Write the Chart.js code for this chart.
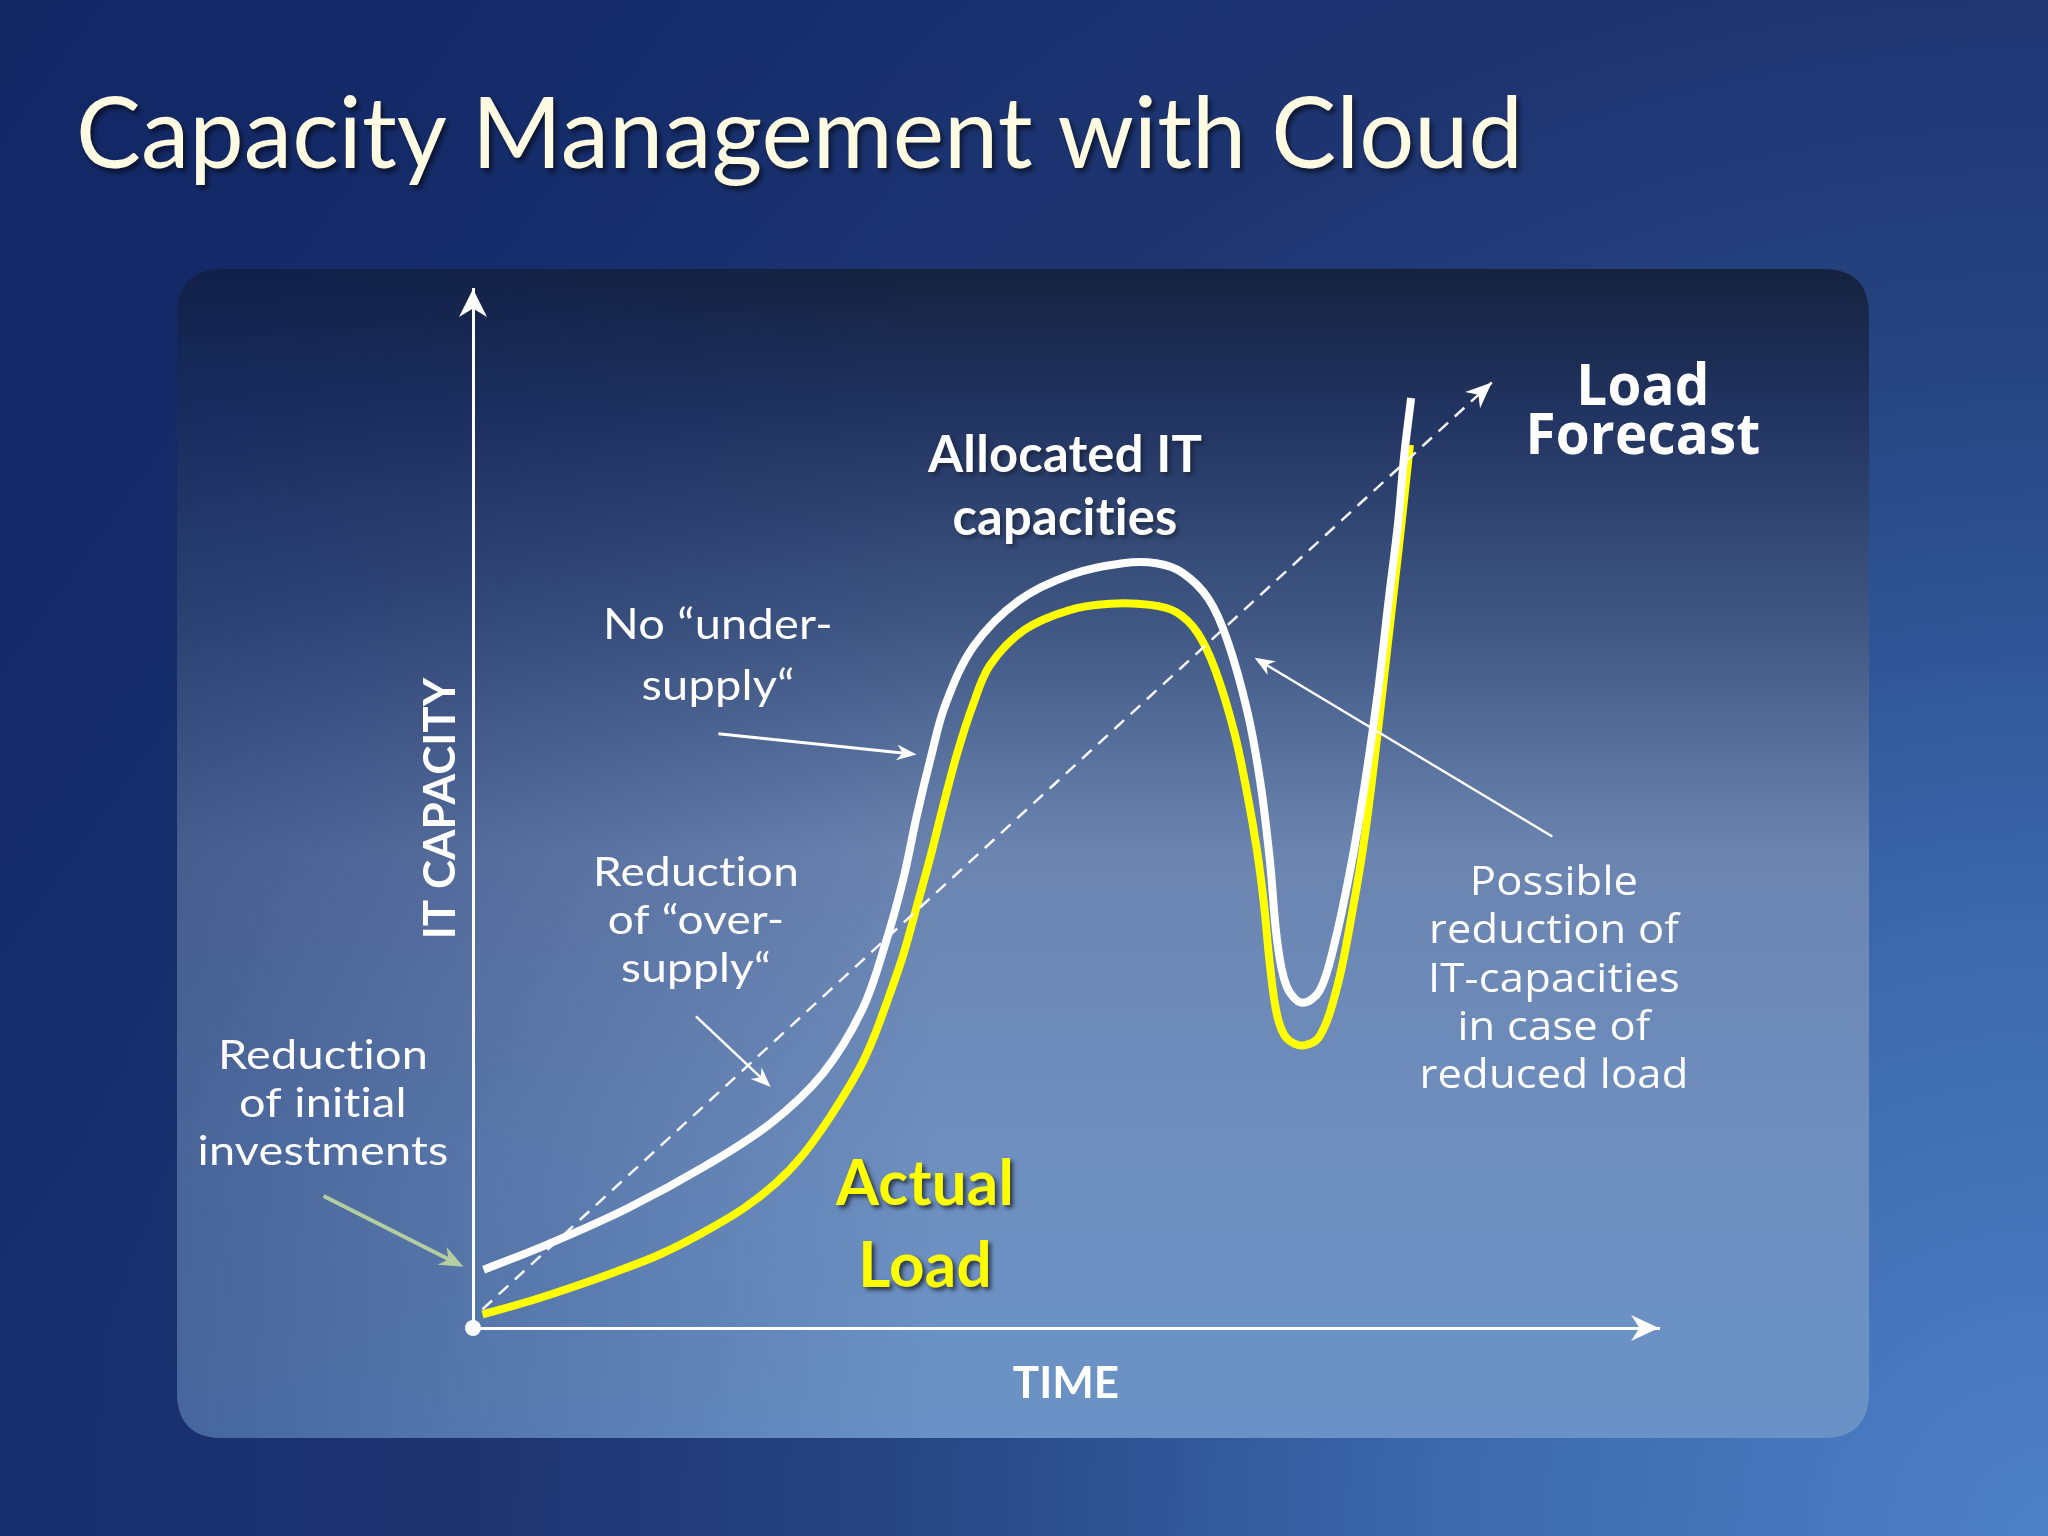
<!DOCTYPE html>
<html>
<head>
<meta charset="utf-8">
<title>Capacity Management with Cloud</title>
<script src="https://cdn.jsdelivr.net/npm/chart.js@4.4.1/dist/chart.umd.min.js"></script>
<style>
  html, body { margin: 0; padding: 0; background: #1a3170; }
  #wrap { width: 2048px; height: 1536px; }
</style>
</head>
<body>
<div id="wrap"><canvas id="capacityChart" width="2048" height="1536"></canvas></div>
<script>
// values, time and capacity both on a 0..100 scale
const timeAllocated = [0.9, 6.4, 13.0, 19.6, 25.1, 29.5, 32.8, 34.8, 36.3, 37.4, 38.6, 39.8, 42.2, 46.0, 50.4, 54.8, 57.6, 59.8, 62.0, 63.6, 65.3, 66.4, 67.2, 67.8, 68.6, 69.9, 71.4, 72.7, 74.1, 75.2, 76.3, 77.2, 78.0, 78.5, 79.1];
const capAllocated  = [5.6, 8.1, 11.5, 15.6, 19.7, 24.5, 30.6, 37.1, 43.3, 49.2, 54.9, 59.9, 65.6, 70.0, 72.5, 73.6, 73.6, 72.7, 70.2, 66.2, 59.3, 52.4, 44.9, 37.3, 32.9, 31.3, 32.5, 37.3, 44.9, 52.4, 61.2, 70.0, 77.5, 83.8, 89.5];

const timeLoad = [0.8, 4.8, 8.3, 12.0, 15.6, 19.1, 22.8, 25.5, 27.7, 30.1, 32.6, 33.8, 35.1, 36.3, 37.4, 38.6, 39.7, 40.8, 42.1, 43.6, 46.5, 50.3, 53.7, 57.1, 59.3, 61.1, 62.6, 64.2, 65.3, 66.1, 66.7, 67.2, 67.8, 68.6, 70.0, 71.4, 72.9, 74.1, 75.2, 76.3, 77.2, 78.1, 79.0];
const capLoad  = [1.3, 2.6, 3.9, 5.4, 7.0, 9.0, 11.5, 13.9, 16.5, 20.3, 25.0, 28.0, 32.0, 36.0, 40.5, 45.5, 50.5, 55.2, 59.8, 63.8, 67.2, 69.1, 69.7, 69.6, 68.9, 66.9, 63.3, 57.3, 51.3, 46.0, 40.7, 34.9, 30.1, 27.9, 27.2, 28.1, 33.0, 39.8, 47.4, 57.5, 66.5, 75.5, 85.0];

const timeForecast = [0.8, 85.9];
const capForecast  = [1.8, 91.0];

const axisTitles = { x: 'TIME', y: 'IT CAPACITY' };

// callout pointers: [fromTime, fromCap, toTime, toCap]
const pointerUnder   = [20.7, 57.2, 37.4, 55.2];
const pointerOver    = [18.8, 30.0, 25.1, 23.2];
const pointerInitial = [-12.6, 12.7, -0.8, 5.9];
const pointerReduce  = [91.0, 47.3, 65.9, 64.5];

function toPoints(xs, ys) {
    return xs.map((x, i) => ({ x: x, y: ys[i] }));
}

// filled "stealth" arrow head pointing along angle
function arrowHead(ctx, x, y, angle, len, width, color) {
    ctx.save();
    ctx.translate(x, y);
    ctx.rotate(angle);
    ctx.beginPath();
    ctx.moveTo(0, 0);
    ctx.lineTo(-len, -width / 2);
    ctx.lineTo(-len * 0.7, 0);
    ctx.lineTo(-len, width / 2);
    ctx.closePath();
    ctx.fillStyle = color;
    ctx.fill();
    ctx.restore();
}

function pointer(ctx, chart, p, color, lineWidth, headLen, headWidth) {
    const sx = chart.scales.x, sy = chart.scales.y;
    const x1 = sx.getPixelForValue(p[0]), y1 = sy.getPixelForValue(p[1]);
    const x2 = sx.getPixelForValue(p[2]), y2 = sy.getPixelForValue(p[3]);
    const a = Math.atan2(y2 - y1, x2 - x1);
    ctx.save();
    ctx.strokeStyle = color;
    ctx.lineWidth = lineWidth;
    ctx.beginPath();
    ctx.moveTo(x1, y1);
    ctx.lineTo(x2 - Math.cos(a) * headLen * 0.6, y2 - Math.sin(a) * headLen * 0.6);
    ctx.stroke();
    ctx.restore();
    arrowHead(ctx, x2, y2, a, headLen, headWidth, color);
}

// text blocks, squeezed sideways so the reference line gets the width seen in the picture
const notes = [
    { lines: ['No \u201Cunder-', 'supply\u201C'], cx: 718, base: 639, step: 61, font: '400 43px Lato', ref: 0, width: 230, color: '#ffffff' },
    { lines: ['Reduction', 'of \u201Cover-', 'supply\u201C'], cx: 696, base: 886, step: 48, font: '400 41px Lato', ref: 0, width: 206, color: '#ffffff' },
    { lines: ['Reduction', 'of initial', 'investments'], cx: 323, base: 1069, step: 48, font: '400 40px Lato', ref: 2, width: 251, color: '#ffffff' },
    { lines: ['Possible', 'reduction of', 'IT-capacities', 'in case of', 'reduced load'], cx: 1554, base: 895, step: 48.3, font: '400 41px "Open Sans"', ref: 4, width: 269, color: '#ffffff' },
    { lines: ['Allocated IT', 'capacities'], cx: 1065, base: 472, step: 63, font: '700 52px Lato', ref: 0, width: 274, color: '#ffffff', shadow: 'rgba(0,0,0,0.35)' },
    { lines: ['Load', 'Forecast'], cx: 1643, base: 405, step: 49, font: '700 57px "Open Sans"', ref: 1, width: 235, color: '#ffffff' },
    { lines: ['Actual', 'Load'], cx: 925, base: 1205, step: 82, font: '700 63px Lato', ref: 0, width: 178, color: '#ffff00', shadow: 'rgba(0,0,0,0.6)' }
];

function drawBlock(ctx, b) {
    ctx.save();
    ctx.font = b.font;
    ctx.letterSpacing = '0.2px'; // keeps Lato from joining "ti"
    ctx.textAlign = 'center';
    ctx.textBaseline = 'alphabetic';
    ctx.fillStyle = b.color;
    const k = b.width / ctx.measureText(b.lines[b.ref]).width;
    if (b.shadow) {
        ctx.shadowColor = b.shadow;
        ctx.shadowOffsetX = 3;
        ctx.shadowOffsetY = 3;
        ctx.shadowBlur = 4;
    }
    b.lines.forEach((line, i) => {
        ctx.save();
        ctx.translate(b.cx, b.base + i * b.step);
        ctx.scale(k, 1);
        ctx.fillText(line, 0, 0);
        ctx.restore();
    });
    ctx.restore();
}

function roundRect(ctx, x, y, w, h, r) {
    ctx.beginPath();
    ctx.moveTo(x + r, y);
    ctx.lineTo(x + w - r, y);
    ctx.quadraticCurveTo(x + w, y, x + w, y + r);
    ctx.lineTo(x + w, y + h - r);
    ctx.quadraticCurveTo(x + w, y + h, x + w - r, y + h);
    ctx.lineTo(x + r, y + h);
    ctx.quadraticCurveTo(x, y + h, x, y + h - r);
    ctx.lineTo(x, y + r);
    ctx.quadraticCurveTo(x, y, x + r, y);
    ctx.closePath();
}

const slidePlugin = {
    id: 'slide',
    beforeDraw(chart) {
        const ctx = chart.ctx;
        const W = chart.width, H = chart.height;
        ctx.save();

        // slide background
        const bg = ctx.createRadialGradient(W, H, 0, W, H, 2000);
        bg.addColorStop(0, '#4e80c5');
        bg.addColorStop(0.3, '#3c69ae');
        bg.addColorStop(0.55, '#284886');
        bg.addColorStop(0.77, '#1e3571');
        bg.addColorStop(1, '#17306e');
        ctx.fillStyle = bg;
        ctx.fillRect(0, 0, W, H);
        const tl = ctx.createLinearGradient(0, 0, 700, 500);
        tl.addColorStop(0, 'rgba(8,20,80,0.35)');
        tl.addColorStop(1, 'rgba(8,20,80,0)');
        ctx.fillStyle = tl;
        ctx.fillRect(0, 0, W, H);

        // rounded panel behind the diagram
        const px = 177, py = 269, pw = 1692, ph = 1169;
        const pg = ctx.createLinearGradient(0, py, 0, py + ph);
        pg.addColorStop(0, '#15223f');
        pg.addColorStop(0.12, '#213360');
        pg.addColorStop(0.3, '#3f5683');
        pg.addColorStop(0.5, '#6b84b0');
        pg.addColorStop(0.75, '#6e8fbf');
        pg.addColorStop(1, '#6a92c6');
        roundRect(ctx, px, py, pw, ph, 46);
        ctx.fillStyle = pg;
        ctx.fill();
        const side = ctx.createLinearGradient(px, 0, px + pw, 0);
        side.addColorStop(0, 'rgba(10,30,90,0.38)');
        side.addColorStop(0.45, 'rgba(10,30,90,0)');
        side.addColorStop(1, 'rgba(10,30,90,0)');
        ctx.fillStyle = side;
        ctx.fill();

        // slide title
        ctx.font = '400 99px Lato';
        ctx.textAlign = 'left';
        ctx.textBaseline = 'alphabetic';
        const title = 'Capacity Management with Cloud';
        const k = 1447 / ctx.measureText(title).width;
        const tg = ctx.createLinearGradient(0, 97, 0, 187);
        tg.addColorStop(0, '#fffbe2');
        tg.addColorStop(0.5, '#f9e9a0');
        tg.addColorStop(1, '#e5c761');
        ctx.fillStyle = tg;
        ctx.shadowColor = 'rgba(0,0,0,0.55)';
        ctx.shadowOffsetX = 3;
        ctx.shadowOffsetY = 4;
        ctx.shadowBlur = 5;
        ctx.translate(76, 168);
        ctx.scale(k, 1);
        ctx.fillText(title, 0, 0);
        ctx.restore();
    },
    afterDatasetsDraw(chart) {
        const ctx = chart.ctx;
        const sx = chart.scales.x, sy = chart.scales.y;
        const ox = sx.getPixelForValue(0), oy = sy.getPixelForValue(0);

        // axis arrow heads and origin dot
        arrowHead(ctx, ox, sy.getPixelForValue(100), -Math.PI / 2, 28, 28, '#ffffff');
        arrowHead(ctx, sx.getPixelForValue(100), oy, 0, 28, 26, '#ffffff');
        ctx.save();
        ctx.fillStyle = '#ffffff';
        ctx.beginPath();
        ctx.arc(ox, oy, 8, 0, Math.PI * 2);
        ctx.fill();
        ctx.restore();

        // head of the forecast line
        const n = timeForecast.length;
        const fx1 = sx.getPixelForValue(timeForecast[n - 2]), fy1 = sy.getPixelForValue(capForecast[n - 2]);
        const fx2 = sx.getPixelForValue(timeForecast[n - 1]), fy2 = sy.getPixelForValue(capForecast[n - 1]);
        arrowHead(ctx, fx2, fy2, Math.atan2(fy2 - fy1, fx2 - fx1), 26, 22, '#ffffff');

        // callouts
        pointer(ctx, chart, pointerUnder, '#ffffff', 3, 20, 16);
        pointer(ctx, chart, pointerOver, '#ffffff', 2.5, 20, 16);
        pointer(ctx, chart, pointerInitial, '#b4cf9f', 4, 24, 20);
        pointer(ctx, chart, pointerReduce, '#ffffff', 2.5, 20, 16);

        notes.forEach(b => drawBlock(ctx, b));
    }
};

const axisFont = { family: 'Lato', weight: 'bold', size: 44, lineHeight: '60px' };

const ctx = document.getElementById('capacityChart').getContext('2d');
new Chart(ctx, {
    type: 'line',
    data: {
        datasets: [{
            label: 'Load Forecast',
            data: toPoints(timeForecast, capForecast),
            borderColor: 'rgba(255,255,255,0.95)',
            borderWidth: 2.5,
            borderDash: [13, 9],
            pointRadius: 0,
            tension: 0
        }, {
            label: 'Allocated IT capacities',
            data: toPoints(timeAllocated, capAllocated),
            borderColor: '#ffffff',
            borderWidth: 8,
            pointRadius: 0,
            tension: 0.35
        }, {
            label: 'Actual Load',
            data: toPoints(timeLoad, capLoad),
            borderColor: '#ffff00',
            borderWidth: 8,
            pointRadius: 0,
            tension: 0.35
        }]
    },
    options: {
        responsive: false,
        animation: false,
        devicePixelRatio: 1,
        layout: {
            padding: { left: 411, right: 389, top: 289, bottom: 122 }
        },
        plugins: {
            legend: { display: false },
            tooltip: { enabled: false },
            title: { display: false }
        },
        scales: {
            x: {
                type: 'linear',
                min: 0,
                max: 100,
                grid: { display: false, drawTicks: false },
                ticks: { display: false },
                border: { color: '#ffffff', width: 3 },
                title: {
                    display: true,
                    text: axisTitles.x,
                    color: '#ffffff',
                    font: axisFont,
                    padding: { top: 26, bottom: 0 }
                }
            },
            y: {
                type: 'linear',
                min: 0,
                max: 100,
                grid: { display: false, drawTicks: false },
                ticks: { display: false },
                border: { color: '#ffffff', width: 3 },
                title: {
                    display: true,
                    text: axisTitles.y,
                    color: '#ffffff',
                    font: axisFont,
                    padding: { top: 0, bottom: 2 }
                }
            }
        }
    },
    plugins: [slidePlugin]
});
</script>
</body>
</html>
